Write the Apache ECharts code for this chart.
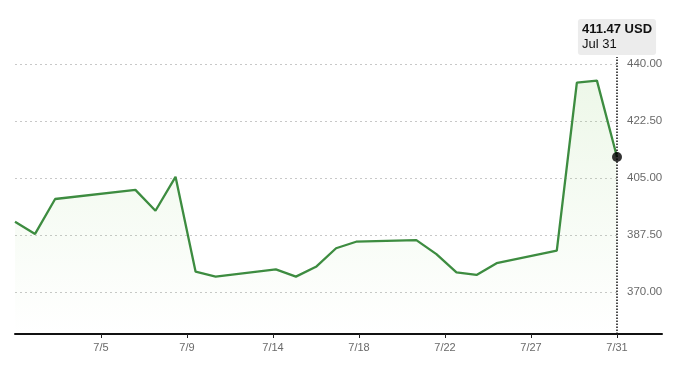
<!DOCTYPE html>
<html>
<head>
<meta charset="utf-8">
<style>
  html, body { margin: 0; padding: 0; background: #fff; }
  #chart { width: 680px; height: 367px; }
</style>
<script src="https://cdn.jsdelivr.net/npm/echarts@6/dist/echarts.min.js"></script>
</head>
<body>
<div id="chart"></div>
<script>
// ---- data (day of July, closing price in USD) ----
const days = [1, 2, 3, 7, 8, 9, 10, 11, 14, 15, 16, 17, 18, 21, 22, 23, 24, 25, 28, 29, 30, 31];
const prices = [391.6, 387.9, 398.6, 401.4, 395.0, 405.4, 376.3, 374.8, 377.0, 374.8, 377.8, 383.5, 385.5, 386.0, 381.7, 376.1, 375.3, 378.9, 382.8, 434.3, 434.9, 411.47];
const xTickLabels = ['7/5', '7/9', '7/14', '7/18', '7/22', '7/27', '7/31'];
const yTicks = [370, 387.5, 405, 422.5, 440];
const lastLabelDate = 'Jul 31';
const currency = 'USD';

// ---- build ----
const firstDay = days[0];
const lastDay = days[days.length - 1];
const span = lastDay - firstDay;
// ticks evenly spaced back from the last day (span / 7 apart)
const xTickValues = xTickLabels.map((_, i) => lastDay - (xTickLabels.length - 1 - i) * span / 7);
const seriesData = days.map((d, i) => [d, prices[i]]);
const lastPoint = seriesData[seriesData.length - 1];

const FONT = 'Liberation Sans, Arial, sans-serif';

const chart = echarts.init(document.getElementById('chart'), null, { renderer: 'canvas' });
chart.setOption({
  animation: false,
  backgroundColor: '#ffffff',
  grid: [
    { left: 15, right: 63, top: 57, bottom: 33 },
    { left: 15, right: 18, top: 57, bottom: 33 }
  ],
  xAxis: [
    {
      gridIndex: 0,
      type: 'value',
      min: firstDay,
      max: lastDay,
      axisLine: { show: false },
      axisTick: {
        show: true,
        customValues: xTickValues,
        length: 4,
        lineStyle: { color: '#222', width: 1 }
      },
      axisLabel: {
        customValues: xTickValues,
        margin: 8,
        color: '#6a6a6a',
        fontFamily: FONT,
        fontSize: 11,
        formatter: function (v) {
          let best = 0, bd = Infinity;
          xTickValues.forEach((t, i) => { const d = Math.abs(t - v); if (d < bd) { bd = d; best = i; } });
          return xTickLabels[best];
        }
      },
      splitLine: { show: false }
    },
    {
      gridIndex: 1,
      type: 'value',
      min: 0,
      max: 1,
      axisLine: { show: true, lineStyle: { color: '#111', width: 2 } },
      axisTick: { show: false },
      axisLabel: { show: false },
      splitLine: { show: false }
    }
  ],
  yAxis: [
    {
      gridIndex: 0,
      type: 'value',
      position: 'right',
      min: 357.2,
      max: 442.15,
      axisLine: { show: false },
      axisTick: { show: false, customValues: yTicks },
      axisLabel: {
        customValues: yTicks,
        margin: 10,
        padding: [4, 0, 0, 0],
        color: '#6a6a6a',
        fontFamily: FONT,
        fontSize: 11.5,
        formatter: v => v.toFixed(2)
      },
      splitLine: {
        show: true,
        showMinLine: true,
        showMaxLine: true,
        lineStyle: { color: '#c8c8c8', type: [2, 3], width: 1 }
      }
    },
    {
      gridIndex: 1,
      type: 'value',
      show: false
    }
  ],
  series: [
    {
      type: 'line',
      xAxisIndex: 0,
      yAxisIndex: 0,
      data: seriesData,
      showSymbol: false,
      symbol: 'none',
      clip: false,
      lineStyle: { color: '#3d8c40', width: 2.3 },
      areaStyle: {
        color: new echarts.graphic.LinearGradient(0, 0, 0, 1, [
          { offset: 0, color: 'rgba(140,205,110,0.22)' },
          { offset: 1, color: 'rgba(140,205,110,0)' }
        ])
      },
      markLine: {
        silent: true,
        symbol: 'none',
        lineStyle: { color: '#111', type: 'dotted', width: 1.5 },
        label: {
          show: true,
          position: 'end',
          distance: 2,
          formatter: function () {
            return '{a|' + lastPoint[1].toFixed(2) + ' ' + currency + '}\n{b|' + lastLabelDate + '}';
          },
          backgroundColor: '#ececec',
          borderRadius: 3,
          padding: [3, 4, 3, 4],
          rich: {
            a: { fontFamily: FONT, fontSize: 13, fontWeight: 'bold', color: '#111', lineHeight: 15, align: 'left' },
            b: { fontFamily: FONT, fontSize: 13, color: '#111', lineHeight: 15, align: 'left' }
          }
        },
        data: [{ xAxis: lastPoint[0] }]
      },
      z: 2
    },
    {
      type: 'scatter',
      xAxisIndex: 0,
      yAxisIndex: 0,
      data: [lastPoint],
      symbol: 'circle',
      symbolSize: 10,
      clip: false,
      itemStyle: { color: '#000' },
      z: 5
    }
  ]
});
</script>
</body>
</html>
